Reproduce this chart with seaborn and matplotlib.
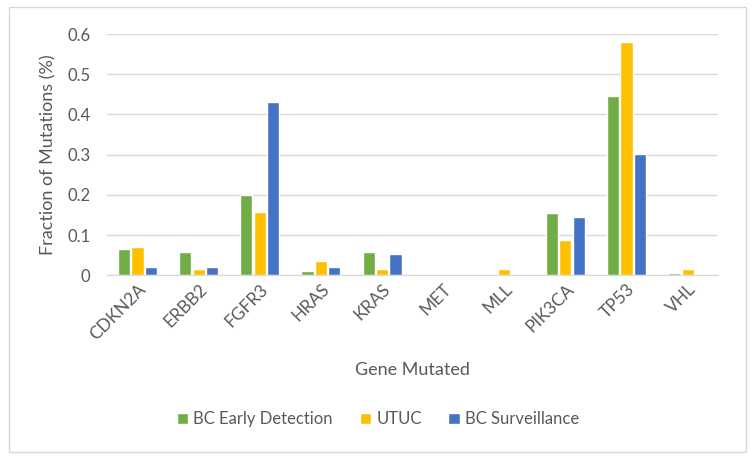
import numpy as np
import pandas as pd
import seaborn as sns
import matplotlib.pyplot as plt
from matplotlib.patches import Rectangle

# Data
genes = ["CDKN2A", "ERBB2", "FGFR3", "HRAS", "KRAS", "MET", "MLL", "PIK3CA", "TP53", "VHL"]
early_detection = [0.065, 0.057, 0.200, 0.012, 0.057, 0.0, 0.0, 0.155, 0.446, 0.007]
utuc = [0.070, 0.017, 0.158, 0.035, 0.017, 0.0, 0.017, 0.087, 0.580, 0.017]
surveillance = [0.022, 0.022, 0.432, 0.022, 0.052, 0.0, 0.0, 0.144, 0.303, 0.0]
series = ["BC Early Detection", "UTUC", "BC Surveillance"]
colors = ["#70AD47", "#FFC000", "#4472C4"]

df = pd.DataFrame({"gene": genes * 3,
                   "group": np.repeat(series, len(genes)),
                   "value": early_detection + utuc + surveillance})

sns.set_style("white")
plt.rcParams['font.family'] = ['Lato', 'DejaVu Sans']
text_col = "#595959"

fig = plt.figure(figsize=(7.56, 4.66), dpi=100)
ax = fig.add_axes([0.1415, 0.409, 0.8085, 0.518])

sns.barplot(data=df, x="gene", y="value", hue="group", hue_order=series,
            palette=colors, saturation=1, width=0.66, gap=0.1, ax=ax, legend=True)

ax.set_ylim(0, 0.6)
ax.set_xlim(-0.5, len(genes) - 0.5)
ax.set_yticks(np.arange(0, 0.61, 0.1))
ax.set_yticklabels(["0", "0.1", "0.2", "0.3", "0.4", "0.5", "0.6"])
ax.yaxis.grid(True, color="#D9D9D9", linewidth=1)
ax.set_axisbelow(True)
for s in ["top", "right", "left"]:
    ax.spines[s].set_visible(False)
ax.spines["bottom"].set_color("#D9D9D9")
ax.tick_params(axis="y", length=0, colors=text_col, labelsize=12, pad=12)
ax.tick_params(axis="x", length=0, colors=text_col, labelsize=12.5, pad=4)
plt.setp(ax.get_xticklabels(), rotation=45, ha="right", rotation_mode="anchor")

ax.set_xlabel("Gene Mutated", fontsize=13, color=text_col, labelpad=14)
ax.set_ylabel("Fraction of Mutations (%)", fontsize=13, color=text_col, labelpad=8)

ax.get_legend().remove()
handles, labels = ax.get_legend_handles_labels()
fig.legend(handles, labels, loc="center", bbox_to_anchor=(0.5, 0.1), ncol=3,
           frameon=False, fontsize=12, labelcolor=text_col, handlelength=0.7,
           handleheight=0.7, handletextpad=0.3, columnspacing=1.6)

# chart border
fig.patches.append(Rectangle((0.012, 0.03), 0.975, 0.955, transform=fig.transFigure,
                             fill=False, edgecolor="#D9D9D9", linewidth=1))

plt.savefig("out.png", dpi=100)
